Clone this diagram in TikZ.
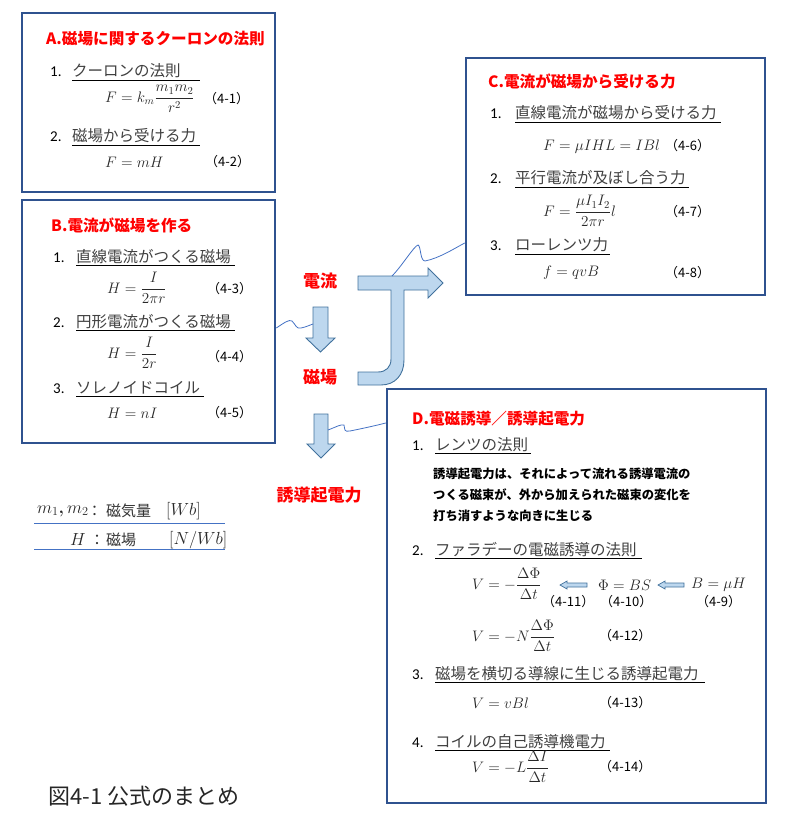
\RequirePackage{fix-cm}
\documentclass[tikz,border=0pt]{standalone}
\usepackage{amsmath}
\usepackage{fontspec}
\newfontfamily\jpfont{Noto Sans CJK JP}
\newfontfamily\latinfont{Carlito}
\usetikzlibrary{calc}

\definecolor{framecol}{RGB}{47,82,143}
\definecolor{titlered}{RGB}{255,0,0}
\definecolor{arrowfill}{RGB}{189,215,238}
\definecolor{arrowline}{RGB}{65,113,156}
\definecolor{linkblue}{RGB}{68,114,196}
\definecolor{mathgray}{RGB}{40,40,40}

\tikzset{
  panel/.style={draw=framecol, line width=2.5pt, inner sep=0pt},
  heading/.style={anchor=base west, inner sep=0pt, text=titlered, font=\jpfont\bfseries\fontsize{15.6}{18}\selectfont},
  itemno/.style={anchor=base west, inner sep=0pt, font=\latinfont\fontsize{15}{18}\selectfont},
  itemtext/.style={anchor=base west, inner sep=0pt, text=black!75, font=\jpfont\fontsize{15.5}{18}\selectfont},
  formula/.style={anchor=west, inner sep=0pt, text=mathgray, font=\fontsize{15.2}{18}\selectfont},
  eqnum/.style={anchor=west, inner sep=0pt, font=\jpfont\fontsize{13}{15}\selectfont},
  para/.style={anchor=base west, inner sep=0pt, font=\jpfont\bfseries\fontsize{12.3}{15}\selectfont},
  keyword/.style={inner sep=0pt, text=titlered, font=\jpfont\bfseries\fontsize{17}{20}\selectfont},
  legendtxt/.style={anchor=west, inner sep=0pt, text=black!80, font=\jpfont\fontsize{15}{17}\selectfont},
  legendmath/.style={anchor=west, inner sep=0pt, text=mathgray, font=\fontsize{17.5}{20}\selectfont},
  blockarrow/.style={fill=arrowfill, draw=arrowline, line width=0.9pt, line join=miter},
  callout/.style={draw=linkblue, line width=0.8pt},
  legendline/.style={draw=linkblue, line width=0.9pt},
}

% numbered entry with underline: name, x of number, text x, baseline y, number, text, underline length
\newcommand{\entry}[7]{%
  \node[itemno] (#1no) at (#2,#4) {#5};
  \node[itemtext] (#1) at (#3,#4) {#6};
  \draw[line width=0.8pt] ($(#1.base west)+(0,3)$) -- ++(#7,0);
}

\begin{document}
\begin{tikzpicture}[x=1pt,y=-1pt]
    \useasboundingbox (0,0) rectangle (786,826);

    % the four panels
    \node[panel, minimum width=253pt, minimum height=179pt] (boxA) at (148.5,102.5) {};
    \node[panel, minimum width=253pt, minimum height=243pt] (boxB) at (148.5,321.5) {};
    \node[panel, minimum width=299pt, minimum height=237pt] (boxC) at (615.5,176.5) {};
    \node[panel, minimum width=379pt, minimum height=414pt] (boxD) at (576.5,596) {};

    % A. Coulomb's law for magnetism
    \node[heading] (titleA) at (46,45) {A.磁場に関するクーロンの法則};
    \entry{itemAa}{50}{72}{77}{1.}{クーロンの法則}{128}
    \node[formula] (eqAa) at (105,99) {$\displaystyle F = k_m\frac{m_1m_2}{r^2}$};
    \node[eqnum] (numAa) at (204,99) {（4-1）};
    \entry{itemAb}{50}{72}{142}{2.}{磁場から受ける力}{128}
    \node[formula] (eqAb) at (105,162) {$F = mH$};
    \node[eqnum] (numAb) at (205,162) {（4-2）};

    % B. currents make fields
    \node[heading] (titleB) at (51,232) {B.電流が磁場を作る};
    \entry{itemBa}{53}{76}{262}{1.}{直線電流がつくる磁場}{159}
    \node[formula] (eqBa) at (107,288) {$\displaystyle H = \frac{I}{2\pi r}$};
    \node[eqnum] (numBa) at (207,289) {（4-3）};
    \entry{itemBb}{53}{76}{327}{2.}{円形電流がつくる磁場}{159}
    \node[formula] (eqBb) at (107,353) {$\displaystyle H = \frac{I}{2r}$};
    \node[eqnum] (numBb) at (207,357) {（4-4）};
    \entry{itemBc}{53}{76}{393}{3.}{ソレノイドコイル}{128}
    \node[formula] (eqBc) at (107,413) {$H = nI$};
    \node[eqnum] (numBc) at (207,413) {（4-5）};

    % C. force on currents
    \node[heading] (titleC) at (488,88) {C.電流が磁場から受ける力};
    \entry{itemCa}{490}{515}{119}{1.}{直線電流が磁場から受ける力}{206}
    \node[formula] (eqCa) at (543,147) {$F = \mu IHL = IBl$};
    \node[eqnum] (numCa) at (665,146) {（4-6）};
    \entry{itemCb}{490}{515}{184}{2.}{平行電流が及ぼし合う力}{174}
    \node[formula] (eqCb) at (543,211) {$\displaystyle F = \frac{\mu I_1I_2}{2\pi r}l$};
    \node[eqnum] (numCb) at (665,212) {（4-7）};
    \entry{itemCc}{490}{515}{251}{3.}{ローレンツ力}{95}
    \node[formula] (eqCc) at (543,273) {$f = qvB$};
    \node[eqnum] (numCc) at (665,273) {（4-8）};

    % D. induction
    \node[heading] (titleD) at (412,424) {D.電磁誘導／誘導起電力};
    \entry{itemDa}{412}{435}{450}{1.}{レンツの法則}{96}
    \foreach \txt [count=\k] in {誘導起電力は、それによって流れる誘導電流の,つくる磁束が、外から加えられた磁束の変化を,打ち消すような向きに生じる}
        \node[para] (lenz\k) at (433,{457+21*\k}) {\txt};
    \entry{itemDb}{412}{435}{555}{2.}{ファラデーの電磁誘導の法則}{207}
    \node[formula] (eqDa) at (472,584) {$\displaystyle V = -\frac{\Delta\Phi}{\Delta t}$};
    \node[formula] (eqDb) at (598,585) {$\Phi = BS$};
    \node[formula] (eqDc) at (691,585) {$B = \mu H$};
    \draw[blockarrow, line width=0.7pt] (560,585) -- (567,581) -- (567,583) -- (587,583) -- (587,587) -- (567,587) -- (567,589) -- cycle;
    \draw[blockarrow, line width=0.7pt] (658,585) -- (665,581) -- (665,583) -- (684,583) -- (684,587) -- (665,587) -- (665,589) -- cycle;
    \node[eqnum] (numDa) at (542,602) {（4-11）};
    \node[eqnum] (numDb) at (600,602) {（4-10）};
    \node[eqnum] (numDc) at (696,602) {（4-9）};
    \node[formula] (eqDd) at (472,636) {$\displaystyle V = -N\frac{\Delta\Phi}{\Delta t}$};
    \node[eqnum] (numDd) at (599,636) {（4-12）};
    \entry{itemDc}{412}{435}{679}{3.}{磁場を横切る導線に生じる誘導起電力}{270}
    \node[formula] (eqDe) at (472,703) {$V = vBl$};
    \node[eqnum] (numDe) at (599,703) {（4-13）};
    \entry{itemDd}{412}{435}{747}{4.}{コイルの自己誘導機電力}{175}
    \node[formula] (eqDf) at (472,767) {$\displaystyle V = -L\frac{\Delta I}{\Delta t}$};
    \node[eqnum] (numDf) at (599,767) {（4-14）};

    % middle flow
    \node[keyword] (current) at (320,281) {電流};
    \node[keyword] (field) at (320,377) {磁場};
    \node[keyword] (emf) at (319,495) {誘導起電力};
    \draw[blockarrow] (313,307) -- (328,307) -- (328,338) -- (335,338) -- (320.5,352) -- (306,338) -- (313,338) -- cycle;
    \draw[blockarrow] (314,414) -- (328,414) -- (328,444) -- (335,444) -- (321,458) -- (307,444) -- (314,444) -- cycle;
    \draw[blockarrow] (358,276) -- (428,276) -- (428,268) -- (443,283) -- (428,298) -- (428,290) -- (404,290) -- (404,360)
        .. controls (404,375) and (395,385) .. (381,385) -- (358,385) -- (358,372) -- (378,372)
        .. controls (386,372) and (391,367) .. (391,359) -- (391,290) -- (358,290) -- cycle;
    \coordinate (arrA) at (313,324);
    \coordinate (arrB) at (328,430);
    \coordinate (jtop) at (392,276);

    % callout lines
    \draw[callout] (boxB.east |- 0,328) .. controls (284,323) and (289,319) .. (292,321)
        .. controls (296,325) and (296,329) .. (301,328) .. controls (306,327) and (310,325) .. (arrA);
    \draw[callout] (jtop) .. controls (402,266) and (414,246) .. (418,245)
        .. controls (421,246) and (420,261) .. (425,261) .. controls (440,258) and (455,248) .. (boxC.west |- 0,243);
    \draw[callout] (arrB) .. controls (336,427) and (341,424) .. (344,425)
        .. controls (345,430) and (344,432) .. (350,431) .. controls (365,428) and (378,425) .. (boxD.west |- 0,423);

    % legend
    \node[legendmath] (symM) at (37,511) {$m_1$\textbf{,}\,$m_2$};
    \node[legendtxt] (colM) at (87,511) {：};
    \node[legendtxt] (nameM) at (106,511) {磁気量};
    \node[legendmath] (unitM) at (166,511) {$[Wb]$};
    \draw[legendline] (34,523) -- (225,523);
    \node[legendmath] (symH) at (70,540) {$H$};
    \node[legendtxt] (colH) at (89.5,540) {：};
    \node[legendtxt] (nameH) at (106,540) {磁場};
    \node[legendmath] (unitH) at (169,540) {$[N/Wb]$};
    \draw[legendline] (34,549) -- (225,549);

    % caption
    \node[anchor=base west, inner sep=0pt, text=black!85, font=\jpfont\fontsize{22}{25}\selectfont] (caption) at (48,804) {図4-1 公式のまとめ};
\end{tikzpicture}
\end{document}
